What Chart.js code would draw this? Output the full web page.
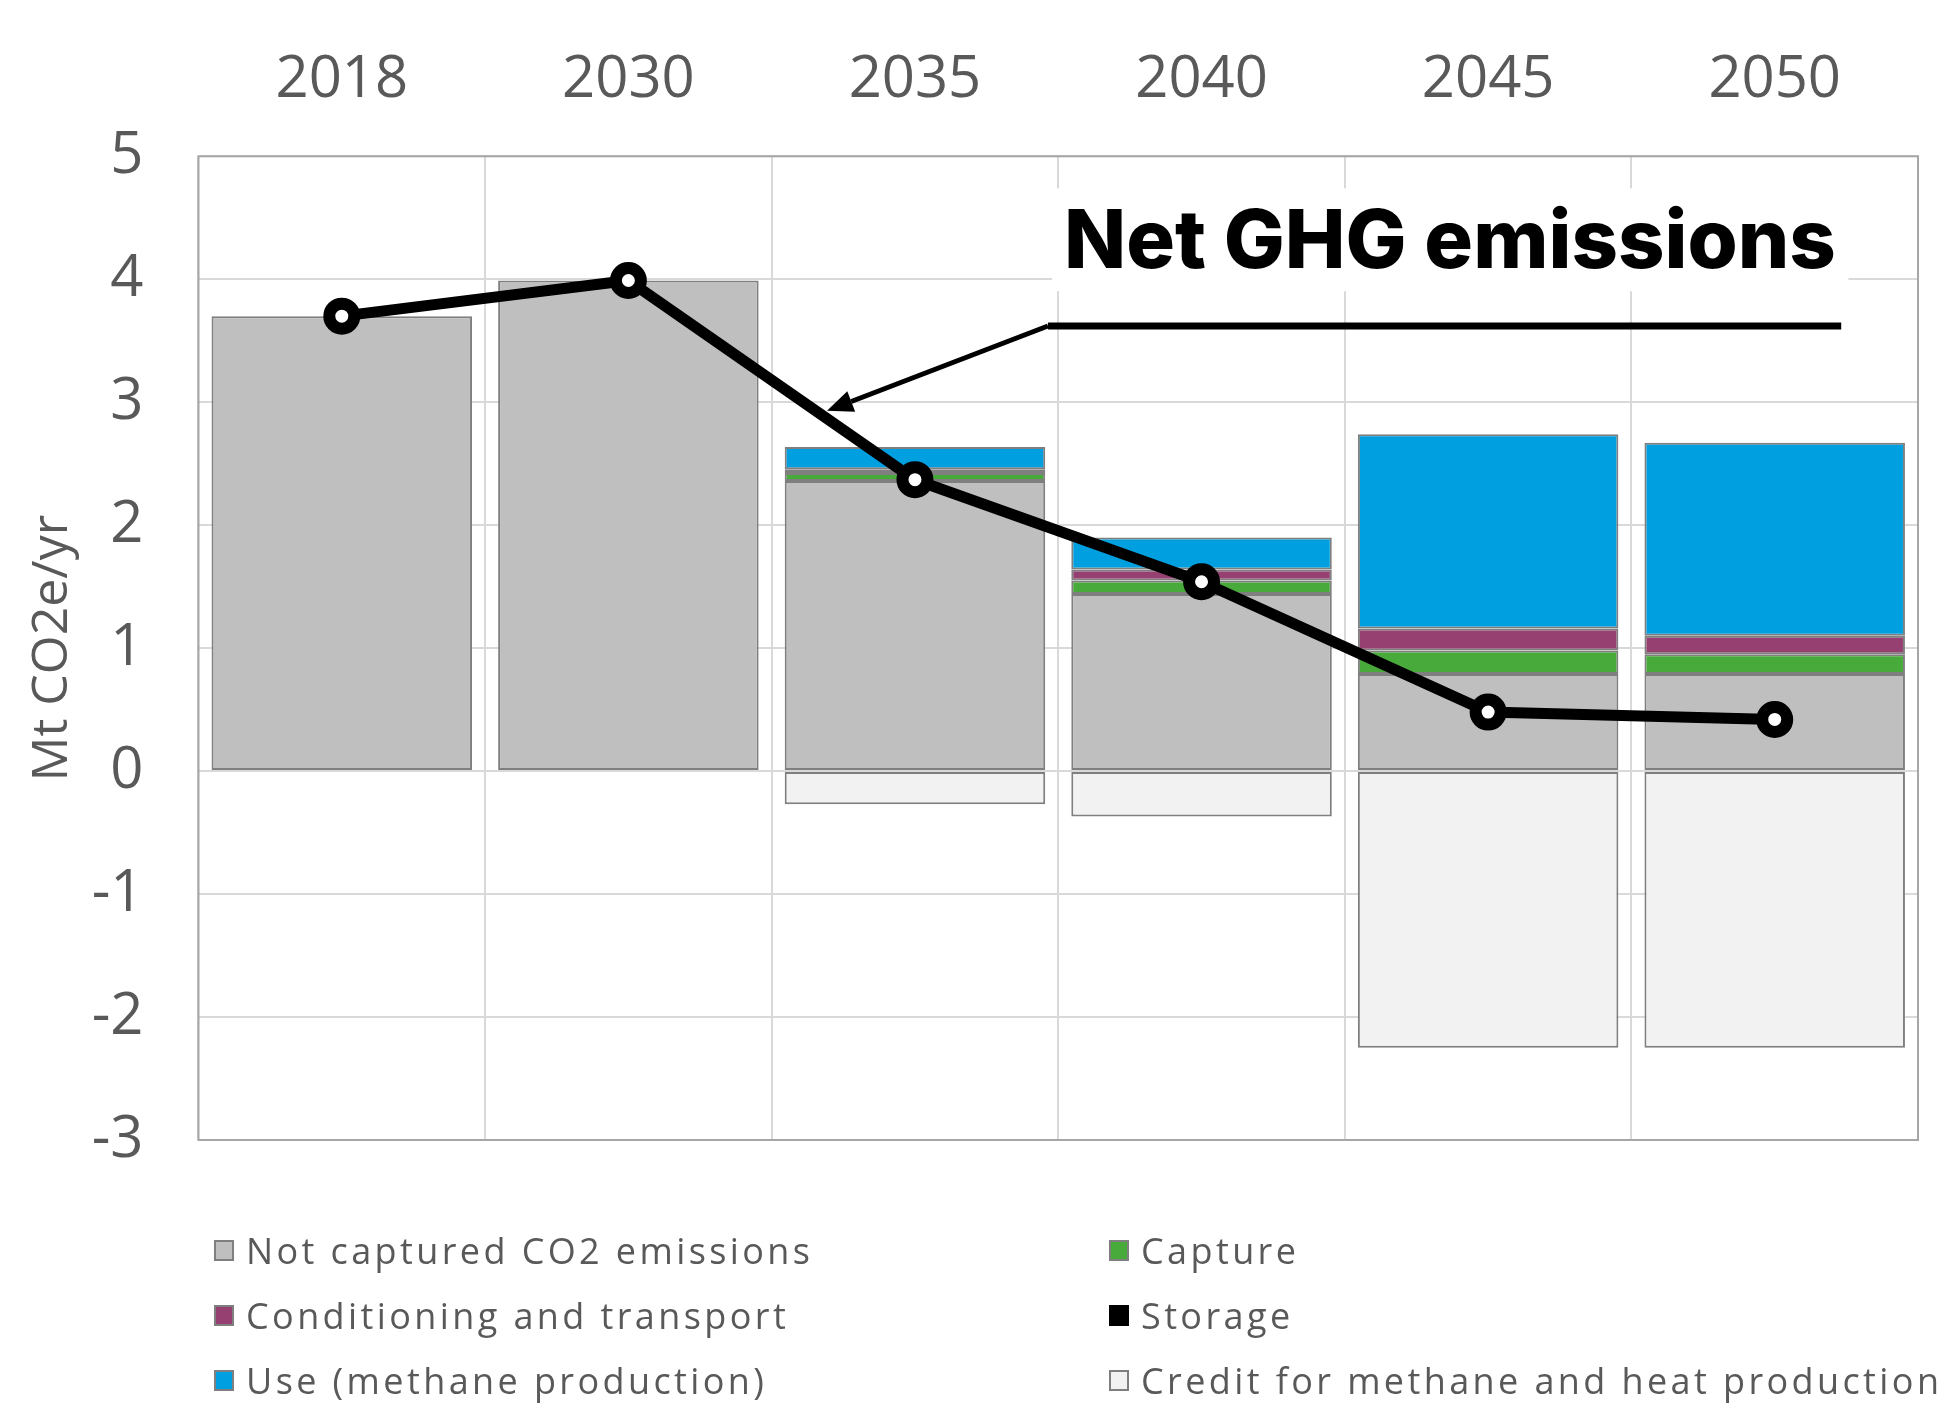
<!DOCTYPE html>
<html>
<head>
<meta charset="utf-8">
<script src="https://cdn.jsdelivr.net/npm/chart.js@4.4.1/dist/chart.umd.min.js"></script>
<style>
  body { margin: 0; background: #fff; }
  #wrap { position: relative; width: 1945px; height: 1403px; }
  #legend { position: absolute; left: 0; top: 0; width: 1945px; height: 1403px; pointer-events: none; }
  .item { position: absolute; display: flex; align-items: center; font-family: "Open Sans", sans-serif; font-size: 36px; color: #595959; white-space: nowrap; letter-spacing: 3.4px; }
  .box { width: 20px; height: 21px; margin-right: 12px; box-sizing: border-box; }
</style>
</head>
<body>
<div id="wrap">
  <canvas id="chart" width="1945" height="1403"></canvas>
  <div id="legend"></div>
</div>
<script>
// categories and values (Mt CO2e/yr)
const years = ['2018', '2030', '2035', '2040', '2045', '2050'];
const notCaptured = [3.70, 3.99, 2.36, 1.44, 0.79, 0.79];
const capture = [0, 0, 0.065, 0.11, 0.19, 0.16];
const conditioning = [0, 0, 0.03, 0.09, 0.18, 0.15];
const storage = [0, 0, 0, 0, 0, 0];
const use = [0, 0, 0.18, 0.26, 1.58, 1.57];
const credit = [0, 0, -0.27, -0.37, -2.25, -2.25];
const netGhg = [3.70, 3.99, 2.37, 1.54, 0.48, 0.42];
const yTicks = [-3, -2, -1, 0, 1, 2, 3, 4, 5];

// callout: text, line height and arrow tip (in axis units)
const calloutText = 'Net GHG emissions';
const calloutY = 3.62;
const calloutStart = 2.464;   // category index where the leader line bends
const calloutEnd = 5.232;
const arrowTipIndex = 1.693;
const arrowTipY = 2.93;

const textColor = '#595959';
const barBorder = '#7f7f7f';

function barSet(label, data, color, border) {
  return {
    type: 'bar',
    label: label,
    data: data,
    backgroundColor: color,
    borderColor: barBorder,
    borderWidth: border,
    borderSkipped: false,
    barPercentage: 0.909,
    categoryPercentage: 1,
    stack: 'main',
    order: 1
  };
}

const datasets = [
  barSet('Not captured CO2 emissions', notCaptured, '#bfbfbf', 2),
  barSet('Capture', capture, '#48aa3a', 2),
  barSet('Conditioning and transport', conditioning, '#963f71', 2),
  barSet('Storage', storage, '#000000', 0),
  barSet('Use (methane production)', use, '#009fe0', 2),
  barSet('Credit for methane and heat production', credit, '#f2f2f2', 2)
];

// helper: pixel of a (fractional) category index
function catPx(x, i) {
  const x0 = x.getPixelForValue(0);
  const step = x.getPixelForValue(1) - x0;
  return x0 + i * step;
}

const frame = {
  id: 'frame',
  beforeDatasetsDraw(chart) {
    const { ctx, chartArea: a, scales: { x, y } } = chart;
    ctx.save();
    // plot border
    ctx.strokeStyle = '#a6a6a6';
    ctx.lineWidth = 2;
    ctx.strokeRect(a.left, a.top, a.right - a.left, a.bottom - a.top);
    // white backing for the callout text
    const bx0 = catPx(x, 2.478), bx1 = catPx(x, 5.257);
    ctx.fillStyle = '#ffffff';
    ctx.fillRect(bx0, a.top + 32, bx1 - bx0, y.getPixelForValue(4) - a.top - 32 + 12);
    ctx.restore();
  },
  afterDatasetsDraw(chart) {
    const { ctx, scales: { x, y } } = chart;
    ctx.save();
    // callout text
    const tx0 = catPx(x, 2.52), tx1 = catPx(x, 5.215);
    let size = 77;
    ctx.font = '800 ' + size + 'px Inter, "Open Sans", sans-serif';
    const w = ctx.measureText(calloutText).width;
    size = size * (tx1 - tx0) / w;
    ctx.font = '800 ' + size.toFixed(1) + 'px Inter, "Open Sans", sans-serif';
    ctx.fillStyle = '#000';
    ctx.textBaseline = 'alphabetic';
    ctx.fillText(calloutText, tx0, y.getPixelForValue(4) - 11);
    // leader line
    const ly = y.getPixelForValue(calloutY);
    const lx0 = catPx(x, calloutStart), lx1 = catPx(x, calloutEnd);
    const tipX = catPx(x, arrowTipIndex), tipY = y.getPixelForValue(arrowTipY);
    ctx.strokeStyle = '#000';
    ctx.lineWidth = 7;
    ctx.beginPath();
    ctx.moveTo(lx1, ly);
    ctx.lineTo(lx0, ly);
    ctx.stroke();
    const ang = Math.atan2(tipY - ly, tipX - lx0);
    const headLen = 26, headW = 11;
    const bx = tipX - headLen * Math.cos(ang), by = tipY - headLen * Math.sin(ang);
    ctx.lineWidth = 5;
    ctx.beginPath();
    ctx.moveTo(lx0, ly);
    ctx.lineTo(bx, by);
    ctx.stroke();
    ctx.fillStyle = '#000';
    ctx.beginPath();
    ctx.moveTo(tipX, tipY);
    ctx.lineTo(bx + headW * Math.sin(ang), by - headW * Math.cos(ang));
    ctx.lineTo(bx - headW * Math.sin(ang), by + headW * Math.cos(ang));
    ctx.closePath();
    ctx.fill();
    ctx.restore();
  }
};

const chart = new Chart(document.getElementById('chart'), {
  data: {
    labels: years,
    datasets: [
      {
        type: 'line',
        label: 'Net GHG emissions',
        data: netGhg,
        borderColor: '#000',
        borderWidth: 11,
        pointRadius: 12.5,
        pointBorderWidth: 12,
        pointBackgroundColor: '#fff',
        pointBorderColor: '#000',
        stack: 'net',
        order: 0
      }
    ].concat(datasets)
  },
  options: {
    responsive: false,
    devicePixelRatio: 1,
    animation: false,
    layout: { padding: { left: 0, right: 27, top: 0, bottom: 263 } },
    plugins: {
      legend: { display: false },
      tooltip: { enabled: false }
    },
    scales: {
      x: {
        position: 'top',
        stacked: true,
        afterFit(s) { s.height = 156.3; },
        grid: { color: '#d9d9d9', lineWidth: 2, drawTicks: false },
        border: { display: false },
        ticks: { color: textColor, font: { family: '"Open Sans", sans-serif', size: 58 }, padding: 41 }
      },
      y: {
        stacked: true,
        min: -3,
        max: 5,
        afterFit(s) { s.width = 198.5; },
        afterBuildTicks(s) { s.ticks = yTicks.map(v => ({ value: v })); },
        grid: { color: '#d9d9d9', lineWidth: 2, drawTicks: false },
        border: { display: false },
        ticks: { color: textColor, font: { family: '"Open Sans", sans-serif', size: 58 }, padding: 55 },
        title: {
          display: true,
          text: 'Mt CO2e/yr',
          color: textColor,
          font: { family: '"Open Sans", sans-serif', size: 50 },
          padding: { top: 23, bottom: 0 }
        }
      }
    }
  },
  plugins: [frame]
});

// legend, two columns as in the source figure
const legend = document.getElementById('legend');
const colX = [214, 1109];
const rowY = [1250, 1315, 1380];
datasets.forEach((d, i) => {
  const item = document.createElement('div');
  item.className = 'item';
  item.style.left = colX[i % 2] + 'px';
  item.style.top = (rowY[Math.floor(i / 2)] - 24) + 'px';
  item.style.height = '48px';
  const box = document.createElement('span');
  box.className = 'box';
  box.style.background = d.backgroundColor;
  if (d.borderWidth > 0) box.style.border = '2px solid ' + barBorder;
  item.appendChild(box);
  item.appendChild(document.createTextNode(d.label));
  legend.appendChild(item);
});
</script>
</body>
</html>
